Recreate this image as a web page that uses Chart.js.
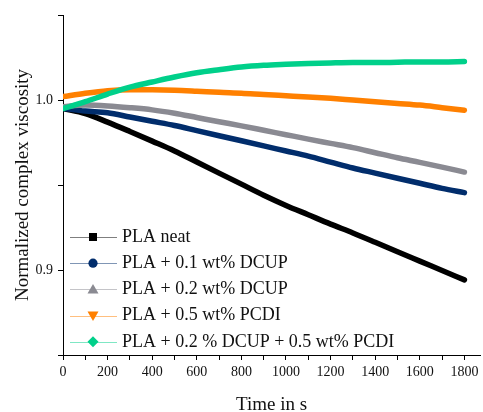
<!DOCTYPE html>
<html>
<head>
<meta charset="utf-8">
<script src="https://cdn.jsdelivr.net/npm/chart.js@4.4.1/dist/chart.umd.min.js"></script>
<style>
  html, body { margin: 0; padding: 0; background: #ffffff; }
  canvas { display: block; }
</style>
</head>
<body>
<canvas id="viscosityChart" width="483" height="412"></canvas>
<script>
// Time axis of the oscillatory rheology run (seconds)
const timeSeconds = [0, 100, 200, 300, 400, 500, 600, 700, 800, 900,
                     1000, 1100, 1200, 1300, 1400, 1500, 1600, 1700, 1800];

// Normalized complex viscosity for each formulation
const plaNeat = [0.995, 0.992, 0.987, 0.9815, 0.9758, 0.970, 0.9635, 0.957, 0.9505, 0.944,
                 0.938, 0.9325, 0.927, 0.9218, 0.9163, 0.9107, 0.9052, 0.8997, 0.8942];
const pla01Dcup = [0.995, 0.9935, 0.9925, 0.990, 0.9875, 0.985, 0.982, 0.979, 0.976, 0.973,
                   0.970, 0.967, 0.9635, 0.960, 0.957, 0.954, 0.951, 0.948, 0.9455];
const pla02Dcup = [0.996, 0.997, 0.9965, 0.9955, 0.9942, 0.9922, 0.9897, 0.9872, 0.9848, 0.9822,
                   0.9796, 0.977, 0.9745, 0.972, 0.969, 0.966, 0.9633, 0.9605, 0.9576];
const pla05Pcdi = [1.002, 1.004, 1.0055, 1.006, 1.006, 1.0058, 1.0052, 1.0045, 1.004, 1.0032,
                   1.0025, 1.0018, 1.001, 1.000, 0.999, 0.998, 0.997, 0.9955, 0.994];
const plaDcupPcdi = [0.995, 0.999, 1.0035, 1.0076, 1.0106, 1.0135, 1.016, 1.0178, 1.0194, 1.0204,
                     1.021, 1.0215, 1.0218, 1.022, 1.022, 1.0222, 1.0224, 1.0224, 1.0226];

const seriesNames = ['PLA neat', 'PLA + 0.1 wt% DCUP', 'PLA + 0.2 wt% DCUP',
                     'PLA + 0.5 wt% PCDI', 'PLA + 0.2 % DCUP + 0.5 wt% PCDI'];
const seriesColors = ['#000000', '#012d6c', '#8a8a92', '#ff8000', '#00d08a'];
const seriesMarkers = ['square', 'circle', 'triangle', 'triangleDown', 'diamond'];

// Axis ticks: labelled majors, unlabelled minors in between
const xTickLabels = [0, 200, 400, 600, 800, 1000, 1200, 1400, 1600, 1800];
const yTickLabels = ['0.9', '1.0'];
const yTickValues = [0.85, 0.9, 0.95, 1.0, 1.05];

const SERIF = "'Liberation Serif', 'Times New Roman', serif";
const allSeries = [plaNeat, pla01Dcup, pla02Dcup, pla05Pcdi, plaDcupPcdi];

const datasets = allSeries.map((values, i) => ({
  label: seriesNames[i],
  data: timeSeconds.map((t, k) => ({ x: t, y: values[k] })),
  borderColor: seriesColors[i],
  backgroundColor: seriesColors[i],
  borderWidth: 5.5,
  borderCapStyle: 'round',
  borderJoinStyle: 'round',
  pointRadius: 0,
  cubicInterpolationMode: 'monotone',
  fill: false,
  order: allSeries.length - i
}));

function drawMarker(ctx, kind, x, y, color) {
  ctx.save();
  ctx.fillStyle = color;
  ctx.beginPath();
  if (kind === 'square') {
    ctx.rect(x - 4, y - 4, 8, 8);
  } else if (kind === 'circle') {
    ctx.arc(x, y, 4.6, 0, Math.PI * 2);
  } else if (kind === 'triangle') {
    ctx.moveTo(x, y - 5.5); ctx.lineTo(x + 5.5, y + 4); ctx.lineTo(x - 5.5, y + 4);
  } else if (kind === 'triangleDown') {
    ctx.moveTo(x, y + 5.5); ctx.lineTo(x + 5.5, y - 4); ctx.lineTo(x - 5.5, y - 4);
  } else {
    ctx.moveTo(x, y - 5.5); ctx.lineTo(x + 5.5, y); ctx.lineTo(x, y + 5.5); ctx.lineTo(x - 5.5, y);
  }
  ctx.closePath();
  ctx.fill();
  ctx.restore();
}

// Key in the lower-left corner of the plot: thin line, marker, name
const seriesKey = {
  id: 'seriesKey',
  afterDatasetsDraw(chart) {
    const { ctx, chartArea } = chart;
    const lineStart = chartArea.left + 7;
    const lineEnd = chartArea.left + 54;
    const markX = chartArea.left + 30;
    const textX = chartArea.left + 59;
    const firstRow = chartArea.bottom - 118;
    const rowGap = 26.2;
    ctx.save();
    ctx.font = '18px ' + SERIF;
    ctx.textBaseline = 'middle';
    ctx.textAlign = 'left';
    seriesNames.forEach((name, i) => {
      const y = firstRow + i * rowGap;
      ctx.globalAlpha = 0.5;
      ctx.strokeStyle = seriesColors[i];
      ctx.lineWidth = 1;
      ctx.beginPath();
      ctx.moveTo(lineStart, Math.round(y) + 0.5);
      ctx.lineTo(lineEnd, Math.round(y) + 0.5);
      ctx.stroke();
      ctx.globalAlpha = 1;
      drawMarker(ctx, seriesMarkers[i], markX, y, seriesColors[i]);
      ctx.fillStyle = '#111111';
      ctx.fillText(name, textX, y);
    });
    ctx.restore();
  }
};

new Chart(document.getElementById('viscosityChart'), {
  type: 'line',
  data: { datasets },
  plugins: [seriesKey],
  options: {
    responsive: false,
    animation: false,
    devicePixelRatio: 1,
    layout: { padding: { top: 15, right: 3, left: 0, bottom: 0 } },
    plugins: { legend: { display: false }, tooltip: { enabled: false } },
    scales: {
      x: {
        type: 'linear',
        min: 0,
        max: 1870,
        afterBuildTicks(scale) {
          const ticks = [];
          for (let v = 0; v <= xTickLabels[xTickLabels.length - 1]; v += 100) ticks.push({ value: v });
          scale.ticks = ticks;
        },
        afterFit(scale) { scale.height = 57; },
        ticks: {
          autoSkip: false,
          maxRotation: 0,
          color: '#111111',
          font: { family: SERIF, size: 14 },
          padding: 4,
          callback: (v) => (xTickLabels.includes(v) ? String(v) : '')
        },
        grid: { drawOnChartArea: false, tickLength: 5, tickColor: '#000000' },
        border: { color: '#000000', width: 1 },
        title: {
          display: true,
          text: 'Time in s',
          color: '#111111',
          font: { family: SERIF, size: 19, lineHeight: 0.7 },
          padding: { top: 0, bottom: 0 }
        }
      },
      y: {
        type: 'linear',
        min: 0.85,
        max: 1.05,
        afterBuildTicks(scale) { scale.ticks = yTickValues.map(v => ({ value: v })); },
        afterFit(scale) { scale.width = 63; },
        ticks: {
          color: '#111111',
          font: { family: SERIF, size: 14 },
          padding: 5,
          callback: (v) => {
            const s = v.toFixed(1);
            return (Math.abs(v - parseFloat(s)) < 1e-6 && yTickLabels.includes(s)) ? s : '';
          }
        },
        grid: { drawOnChartArea: false, tickLength: 5, tickColor: '#000000' },
        border: { color: '#000000', width: 1 },
        title: {
          display: true,
          text: 'Normalized complex viscosity',
          color: '#111111',
          font: { family: SERIF, size: 19, lineHeight: 1.0 },
          padding: { top: 14, bottom: 0 }
        }
      }
    }
  }
});
</script>
</body>
</html>
